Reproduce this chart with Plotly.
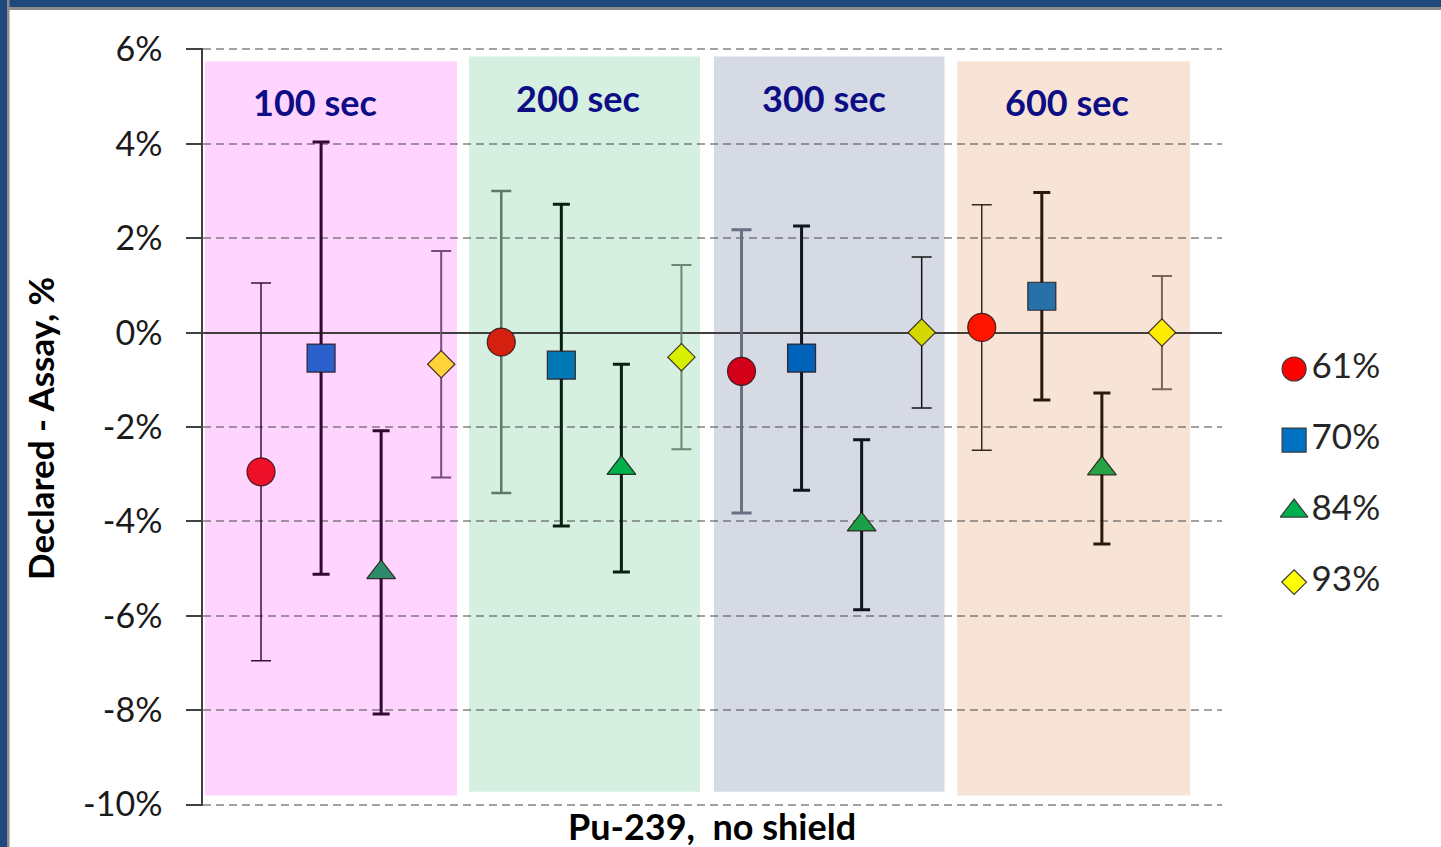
import plotly.graph_objects as go

# ---- data (percent) ----
groups = ["100 sec", "200 sec", "300 sec", "600 sec"]
series_names = ["61%", "70%", "84%", "93%"]

diff_61 = [-2.95, -0.20, -0.82, 0.11]
err_61 = [4.00, 3.20, 3.00, 2.60]
diff_70 = [-0.54, -0.69, -0.54, 0.77]
err_70 = [4.58, 3.41, 2.80, 2.20]
diff_84 = [-5.08, -2.87, -4.07, -2.88]
err_84 = [3.00, 2.20, 1.80, 1.60]
diff_93 = [-0.67, -0.52, 0.00, 0.00]
err_93 = [2.40, 1.95, 1.60, 1.20]

y_tick_vals = [-10, -8, -6, -4, -2, 0, 2, 4, 6]
y_tick_text = ["-10%", "-8%", "-6%", "-4%", "-2%", "0%", "2%", "4%", "6%"]

values = [diff_61, diff_70, diff_84, diff_93]
errors = [err_61, err_70, err_84, err_93]

# ---- styles ----
FONT = "Lato, 'Open Sans', sans-serif"
W, H = 1441, 847
ML, MT, MB = 203, 48, 41
PLOT_W = W - ML           # plot area spans to the right edge (legend lives there)
MAIN_W = 1019             # width of the main x-axis domain in px
PLOT_H = H - MT - MB

symbols = ["circle", "square", "triangle-up", "diamond"]
sizes = [28, 28, 25, 21]

# marker fill per series (rows) and time group (columns)
marker_fill = [
    ["#EE1028", "#D4200F", "#D4001A", "#FF1400"],
    ["#2B5FCC", "#0078B4", "#0062B8", "#2870A8"],
    ["#2E8B6B", "#00B04C", "#1BA04A", "#27A345"],
    ["#FFD23A", "#D8F000", "#D4D800", "#FFEB00"],
]
# error-bar colour / thickness / cap half-width per series and group
bar_color = [
    ["#3C1040", "#5F7A68", "#6A7080", "#3A2818"],
    ["#300A30", "#0A1F10", "#101520", "#2A1A0C"],
    ["#300A30", "#0A1F10", "#101520", "#2A1A0C"],
    ["#7A4A80", "#6A8872", "#151515", "#7A6555"],
]
bar_thick = [
    [1.5, 2.5, 3.0, 1.5],
    [3.0, 3.0, 3.0, 3.0],
    [3.0, 3.0, 3.0, 3.0],
    [2.0, 2.0, 1.5, 2.0],
]
bar_cap = [10, 8.5, 8.5, 10]

band_fill = ["#FFD5FF", "#D5F0E0", "#D5DAE5", "#F8E4D6"]


def px_to_x(px):
    # pixel -> paper x
    return (px - ML) / PLOT_W


def px_to_y(py):
    # pixel -> paper y
    return (H - MB - py) / PLOT_H


fig = go.Figure()

# one trace per (series, time group) so every bar can carry its own colour
n_ser = len(series_names)
for s in range(n_ser):
    for g in range(len(groups)):
        fig.add_trace(go.Scatter(
            x=[g * n_ser + s + 1],
            y=[values[s][g]],
            mode="markers",
            showlegend=False,
            hovertemplate=f"{groups[g]} · {series_names[s]}: %{{y:.2f}}%<extra></extra>",
            marker=dict(symbol=symbols[s], size=sizes[s], color=marker_fill[s][g],
                        opacity=1,
                        line=dict(color="rgba(40,20,20,0.85)", width=1.2)),
            error_y=dict(type="data", array=[errors[s][g]], visible=True,
                         color=bar_color[s][g], thickness=bar_thick[s][g],
                         width=bar_cap[s]),
        ))

# legend drawn on an auxiliary axis pair at the right
legend_fill = ["#FF0000", "#0070C0", "#00B050", "#FFFF00"]
legend_sizes = [24, 24, 24, 19]
legend_y = [0.5765 - 0.0937 * i for i in range(n_ser)]
fig.add_trace(go.Scatter(
    x=[0.302] * n_ser, y=legend_y,
    xaxis="x2", yaxis="y2",
    mode="markers",
    marker=dict(symbol=symbols, size=legend_sizes, color=legend_fill, opacity=1,
                line=dict(color="#3A3A3A", width=1.2)),
    showlegend=False, hoverinfo="skip",
))
fig.add_trace(go.Scatter(
    x=[0.385] * n_ser, y=legend_y,
    xaxis="x2", yaxis="y2",
    mode="text",
    text=series_names,
    textposition="middle right",
    textfont=dict(family=FONT, size=35, color="#262626"),
    showlegend=False, hoverinfo="skip",
))

# shaded bands behind each time group (data coordinates)
bands = [
    (0.067, 4.263, 5.75, -9.81),
    (4.463, 8.309, 5.85, -9.73),
    (8.542, 12.38, 5.85, -9.73),
    (12.59, 16.47, 5.75, -9.81),
]
shapes = []
for (x0, x1, y1, y0), col in zip(bands, band_fill):
    shapes.append(dict(type="rect", xref="x", yref="y", x0=x0, x1=x1, y0=y0, y1=y1,
                       fillcolor=col, line=dict(width=0), layer="below"))

# slide frame: dark blue band with a grey inner edge along top and left
blue, grey = "#1F497D", "#8C8C8C"
shapes += [
    dict(type="rect", xref="paper", yref="paper", x0=px_to_x(0), x1=px_to_x(W),
         y0=px_to_y(10), y1=px_to_y(0), fillcolor=grey, line=dict(width=0), layer="below"),
    dict(type="rect", xref="paper", yref="paper", x0=px_to_x(0), x1=px_to_x(W),
         y0=px_to_y(7), y1=px_to_y(0), fillcolor=blue, line=dict(width=0), layer="below"),
    dict(type="rect", xref="paper", yref="paper", x0=px_to_x(0), x1=px_to_x(9.5),
         y0=px_to_y(H), y1=px_to_y(0), fillcolor=grey, line=dict(width=0), layer="below"),
    dict(type="rect", xref="paper", yref="paper", x0=px_to_x(0), x1=px_to_x(7),
         y0=px_to_y(H), y1=px_to_y(0), fillcolor=blue, line=dict(width=0), layer="below"),
]

# group captions
caption_pos = [(1.899, 4.89), (6.278, 4.97), (10.37, 4.97), (14.42, 4.89)]
annotations = []
for name, (cx, cy) in zip(groups, caption_pos):
    annotations.append(dict(x=cx, y=cy, xref="x", yref="y", text=f"<b>{name}</b>",
                            showarrow=False, xanchor="center", yanchor="middle",
                            font=dict(family=FONT, size=36, color="#0D0D85")))

annotations.append(dict(x=px_to_x(40), y=px_to_y(428), xref="paper", yref="paper",
                        text="<b>Declared - Assay, %</b>", textangle=-90, showarrow=False,
                        xanchor="center", yanchor="middle",
                        font=dict(family=FONT, size=35, color="#000000")))
annotations.append(dict(x=px_to_x(712), y=px_to_y(826), xref="paper", yref="paper",
                        text="<b>Pu-239,\u00a0 no shield</b>", showarrow=False,
                        xanchor="center", yanchor="middle",
                        font=dict(family=FONT, size=36, color="#000000")))

fig.update_layout(
    width=W, height=H,
    margin=dict(l=ML, r=0, t=MT, b=MB, pad=0),
    paper_bgcolor="#FFFFFF",
    plot_bgcolor="rgba(0,0,0,0)",
    showlegend=False,
    shapes=shapes,
    annotations=annotations,
    xaxis=dict(domain=[0, MAIN_W / PLOT_W], range=[0.034, 17.0],
               showgrid=False, zeroline=False, showline=False,
               showticklabels=False, ticks="", fixedrange=True),
    yaxis=dict(range=[-10.03, 6.03], tickvals=y_tick_vals, ticktext=y_tick_text,
               showgrid=True, gridcolor="rgba(70,70,70,0.5)", gridwidth=1.5,
               griddash="8px,5px",
               zeroline=True, zerolinecolor="#404040", zerolinewidth=1.5,
               showline=True, linecolor="#404040", linewidth=1.5,
               ticks="outside", ticklen=15, tickwidth=1.5, tickcolor="#404040",
               tickfont=dict(family=FONT, size=34, color="#1A1A1A"),
               ticklabelstandoff=17, fixedrange=True),
    xaxis2=dict(domain=[0.83, 1.0], range=[0, 1], anchor="y2", visible=False,
                fixedrange=True),
    yaxis2=dict(domain=[0, 1], range=[0, 1], anchor="x2", visible=False,
                fixedrange=True),
)

fig.write_html("out.html")
